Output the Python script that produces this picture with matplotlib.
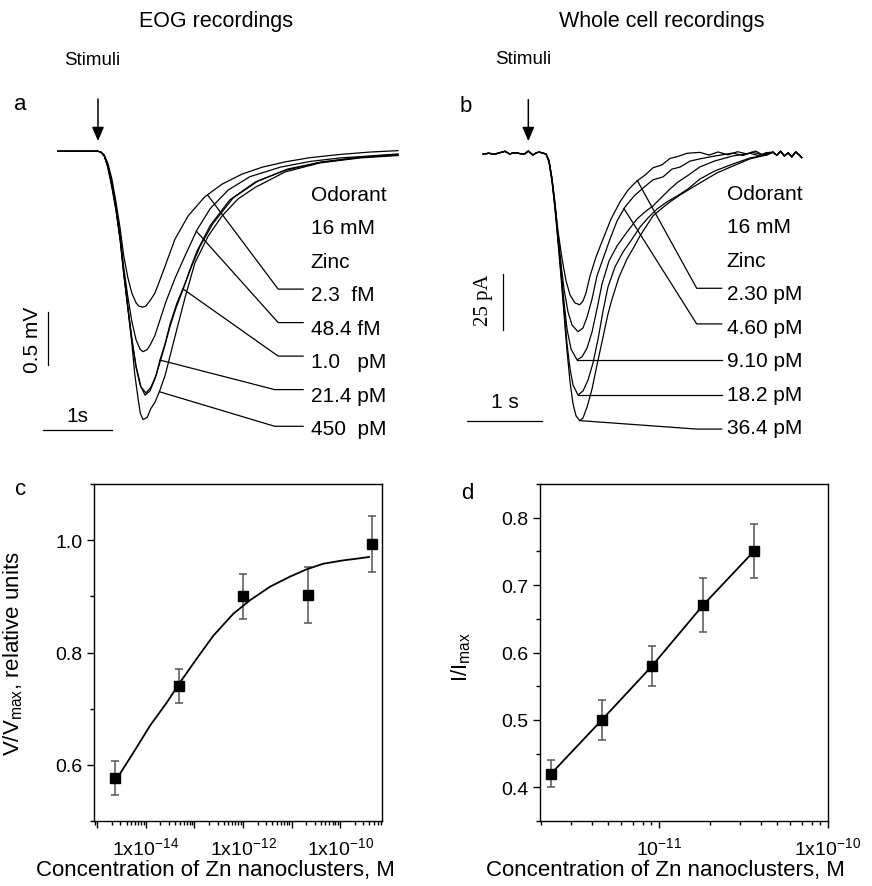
import numpy as np
import matplotlib.pyplot as plt
from matplotlib.ticker import FixedLocator, FixedFormatter, NullFormatter, MultipleLocator

plt.rcParams['font.family'] = ['Liberation Sans', 'DejaVu Sans']
plt.rcParams['mathtext.fontset'] = 'custom'
plt.rcParams['mathtext.rm'] = 'Liberation Sans'
plt.rcParams['mathtext.it'] = 'Liberation Sans:italic'
plt.rcParams['mathtext.default'] = 'regular'

# ---- a: EOG traces (time in s after stimulus, potential in mV) ----
eog_labels = ['2.3  fM', '48.4 fM', '1.0   pM', '21.4 pM', '450  pM']
eog_t_23 = [-0.58, 0, 0.04, 0.09, 0.14, 0.20, 0.26, 0.32, 0.37, 0.43, 0.49, 0.55, 0.59, 0.64, 0.69,
            0.75, 0.82, 0.89, 0.97, 1.11, 1.30, 1.54, 1.79, 2.08, 2.37, 2.70, 3.06, 3.49, 3.93, 4.33]
eog_v_23 = [0, 0, -0.007, -0.035, -0.11, -0.26, -0.48, -0.73, -0.98, -1.19, -1.34, -1.43, -1.46, -1.47, -1.46,
            -1.41, -1.34, -1.22, -1.08, -0.83, -0.61, -0.43, -0.31, -0.215, -0.15, -0.10, -0.06, -0.03, -0.007, 0.006]
eog_t_484 = [-0.58, 0, 0.04, 0.09, 0.14, 0.20, 0.26, 0.32, 0.37, 0.43, 0.49, 0.55, 0.61, 0.65, 0.71,
             0.75, 0.82, 0.89, 0.98, 1.11, 1.26, 1.43, 1.62, 1.88, 2.19, 2.63, 3.06, 3.49, 3.93, 4.33]
eog_v_484 = [0, 0, -0.007, -0.044, -0.13, -0.30, -0.53, -0.80, -1.09, -1.37, -1.61, -1.78, -1.87, -1.89, -1.87,
             -1.83, -1.74, -1.60, -1.42, -1.20, -0.98, -0.74, -0.54, -0.365, -0.24, -0.15, -0.096, -0.063, -0.044, -0.025]
eog_t_1 = [-0.58, 0, 0.04, 0.09, 0.14, 0.20, 0.26, 0.32, 0.37, 0.43, 0.49, 0.55, 0.61, 0.68, 0.75,
           0.82, 0.89, 0.97, 1.04, 1.13, 1.23, 1.33, 1.43, 1.62, 1.90, 2.27, 2.70, 3.20, 3.78, 4.33]
eog_v_1 = [0, 0, -0.007, -0.044, -0.14, -0.32, -0.55, -0.84, -1.15, -1.48, -1.79, -2.04, -2.21, -2.30, -2.26,
           -2.15, -2.00, -1.82, -1.65, -1.47, -1.30, -1.11, -0.94, -0.70, -0.46, -0.29, -0.18, -0.106, -0.058, -0.035]
eog_t_214 = [-0.58, 0, 0.04, 0.09, 0.14, 0.20, 0.26, 0.32, 0.37, 0.43, 0.49, 0.55, 0.62, 0.69, 0.76,
             0.84, 0.89, 0.97, 1.04, 1.14, 1.26, 1.36, 1.47, 1.66, 1.95, 2.31, 2.74, 3.23, 3.81, 4.33]
eog_v_214 = [0, 0, -0.007, -0.035, -0.13, -0.30, -0.535, -0.82, -1.13, -1.46, -1.77, -2.03, -2.22, -2.28, -2.23,
             -2.11, -1.98, -1.81, -1.63, -1.43, -1.24, -1.07, -0.90, -0.68, -0.44, -0.28, -0.167, -0.10, -0.054, -0.03]
eog_t_450 = [-0.58, 0, 0.04, 0.09, 0.14, 0.20, 0.26, 0.32, 0.37, 0.43, 0.49, 0.53, 0.58, 0.61, 0.65, 0.71,
             0.76, 0.82, 0.89, 0.97, 1.11, 1.26, 1.40, 1.59, 1.79, 2.02, 2.27, 2.70, 3.20, 3.78, 4.33]
eog_v_450 = [0, 0, -0.007, -0.044, -0.15, -0.34, -0.56, -0.83, -1.13, -1.47, -1.82, -2.10, -2.34, -2.47, -2.53, -2.51,
             -2.43, -2.37, -2.26, -2.11, -1.75, -1.37, -1.05, -0.80, -0.61, -0.45, -0.34, -0.195, -0.11, -0.063, -0.04]
eog_t = [eog_t_23, eog_t_484, eog_t_1, eog_t_214, eog_t_450]
eog_v = [eog_v_23, eog_v_484, eog_v_1, eog_v_214, eog_v_450]
eog_mark_t = [1.58, 1.42, 1.23, 0.895, 0.885]   # where the label leaders touch each trace

# ---- b: whole cell traces (time in s, current in pA) ----
wc_labels = ['2.30 pM', '4.60 pM', '9.10 pM', '18.2 pM', '36.4 pM']
wc_pre_t = [-0.60, -0.52, -0.45, -0.40, -0.35, -0.31, -0.25, -0.18, -0.12, -0.05, 0.0, 0.06, 0.11, 0.15, 0.20]
wc_pre_i = [0.0, 0.3, -0.2, 0.4, 0.8, 1.2, 0.0, 0.6, 0.2, 0.0, 1.3, -0.5, 0.6, 0.8, 0.3]
wc_tail_t = [3.25, 3.30, 3.35, 3.40, 3.45, 3.50, 3.55, 3.60, 3.63]
wc_tail_i = [0.8, -0.6, 1.2, -0.9, 0.5, -1.3, 0.9, -0.5, -1.6]
wc_t_230 = [0.235, 0.275, 0.315, 0.355, 0.394, 0.448, 0.501, 0.554, 0.620, 0.683, 0.726, 0.766, 0.820, 0.899, 0.992,
            1.098, 1.218, 1.324, 1.443, 1.550, 1.656, 1.775, 1.882, 1.988, 2.108, 2.280, 2.40, 2.52, 2.65, 2.78,
            2.90, 3.02, 3.12]
wc_i_230 = [0, -3.1, -11.2, -22.4, -34.6, -47.1, -57.0, -63.3, -66.9, -67.7, -66.0, -62.4, -54.7, -46.2, -38.2,
            -29.2, -21.5, -16.2, -12.1, -9.5, -6.2, -4.9, -2.0, -1.1, 0.3, 0.7, -0.5, 0.9, -0.4, 1.0,
            0.0, 1.3, -0.6]
wc_t_460 = [0.235, 0.275, 0.315, 0.355, 0.394, 0.434, 0.474, 0.527, 0.580, 0.660, 0.726, 0.780, 0.846, 0.912, 1.005,
            1.085, 1.178, 1.284, 1.404, 1.523, 1.656, 1.789, 1.908, 2.015, 2.147, 2.280, 2.479, 2.718, 2.85, 2.97, 3.10]
wc_i_460 = [0, -3.1, -11.2, -22.9, -36.4, -49.4, -60.6, -70.9, -76.8, -79.8, -78.1, -73.2, -65.1, -54.7, -45.8,
            -38.2, -30.1, -23.8, -18.9, -15.3, -11.6, -10.3, -6.8, -5.9, -3.2, -2.2, -0.9, 0.4, -0.7, 0.8, -0.3]
wc_t_910 = [0.235, 0.275, 0.315, 0.355, 0.394, 0.434, 0.474, 0.514, 0.567, 0.647, 0.713, 0.780, 0.846, 0.912, 0.979,
            1.072, 1.178, 1.311, 1.443, 1.550, 1.656, 1.775, 1.882, 1.988, 2.108, 2.280, 2.479, 2.718, 2.944, 3.06, 3.16]
wc_i_910 = [0, -3.1, -11.7, -23.3, -37.3, -51.6, -66.5, -78.6, -87.6, -92.4, -91.1, -87.1, -79.9, -69.6, -58.3,
            -48.0, -41.3, -35.0, -29.2, -26.0, -23.3, -19.3, -15.7, -12.6, -9.9, -5.8, -3.1, -0.9, 0.3, -0.8, 0.6]
wc_t_182 = [0.235, 0.275, 0.315, 0.355, 0.394, 0.434, 0.474, 0.514, 0.554, 0.594, 0.660, 0.726, 0.793, 0.859, 0.926,
            0.992, 1.058, 1.151, 1.258, 1.377, 1.483, 1.590, 1.709, 1.842, 1.975, 2.121, 2.280, 2.479, 2.718, 2.944, 3.170]
wc_i_182 = [0, -3.6, -12.1, -24.2, -38.2, -53.4, -69.6, -85.3, -96.5, -103.8, -108.2, -106.4, -101.5, -93.8, -83.1,
            -70.5, -59.7, -50.7, -44.0, -38.2, -32.8, -28.7, -24.7, -21.5, -18.9, -15.7, -11.2, -7.6, -4.5, -1.8, -0.4]
wc_t_364 = [0.235, 0.275, 0.315, 0.355, 0.394, 0.434, 0.474, 0.514, 0.554, 0.594, 0.634, 0.683, 0.726, 0.780, 0.846,
            0.912, 0.992, 1.058, 1.112, 1.205, 1.311, 1.404, 1.483, 1.576, 1.656, 1.762, 1.882, 2.015, 2.147, 2.280,
            2.506, 2.718, 2.944, 3.170]
wc_i_364 = [0, -3.6, -12.6, -25.1, -39.5, -55.2, -71.8, -88.5, -102.4, -112.3, -117.6, -119.7, -118.5, -113.6, -105.5,
            -94.7, -82.2, -71.8, -65.1, -55.2, -47.1, -41.7, -36.8, -31.9, -27.8, -24.7, -21.5, -18.4, -15.7, -13.0,
            -8.5, -5.4, -2.2, -0.4]
wc_t = [wc_t_230, wc_t_460, wc_t_910, wc_t_182, wc_t_364]
wc_i = [wc_i_230, wc_i_460, wc_i_910, wc_i_182, wc_i_364]
wc_mark_t = [1.448, 1.271]

# ---- c: EOG dose response ----
eog_conc = [2.3e-15, 4.84e-14, 1.0e-12, 2.14e-11, 4.5e-10]
eog_resp = [0.577, 0.740, 0.900, 0.902, 0.993]
eog_err = [0.03, 0.03, 0.04, 0.05, 0.05]
fit_logx = [-14.563, -14.255, -13.912, -13.568, -13.295, -12.952, -12.610, -12.199,
            -11.856, -11.445, -11.034, -10.691, -10.349, -9.938, -9.663, -9.404]
fit_y = [0.580, 0.622, 0.670, 0.711, 0.747, 0.789, 0.830, 0.869,
         0.893, 0.917, 0.935, 0.948, 0.958, 0.964, 0.967, 0.970]

# ---- d: whole cell dose response ----
wc_conc = [2.3e-12, 4.6e-12, 9.1e-12, 1.82e-11, 3.64e-11]
wc_resp = [0.42, 0.50, 0.58, 0.67, 0.75]
wc_err = [0.02, 0.03, 0.03, 0.04, 0.04]

W, H = 872, 887
fig = plt.figure(figsize=(W / 100, H / 100), dpi=100)


def box(x0, y0, x1, y1):
    # pixel rectangle (from top left) -> figure fraction
    return [x0 / W, 1 - y1 / H, (x1 - x0) / W, (y1 - y0) / H]


narrow = ['Liberation Sans Narrow', 'Liberation Sans', 'DejaVu Sans']
fig.text(216 / W, 1 - 22 / H, 'EOG recordings', ha='center', va='center', fontsize=15.5, family=narrow)
fig.text(662 / W, 1 - 22 / H, 'Whole cell recordings', ha='center', va='center', fontsize=15.5, family=narrow)
for lab, x, y in [('a', 20, 104), ('b', 466, 106), ('c', 21, 490), ('d', 467, 494)]:
    fig.text(x / W, 1 - y / H, lab, ha='center', va='center', fontsize=16)

# panel a
ax_a = fig.add_axes(box(0, 40, 435, 445))
ax_a.set_xlim(-1.414, 4.863)
ax_a.set_ylim(-2.761, 1.059)
ax_a.axis('off')
for t, v in zip(eog_t, eog_v):
    ax_a.plot(t, v, color='k', lw=0.9)
ax_a.annotate('', xy=(0, 0.07), xytext=(0, 0.52),
              arrowprops=dict(arrowstyle='-|>,head_length=0.7,head_width=0.3', color='k', lw=1.1, mutation_scale=12))
ax_a.text(-0.09, 0.87, 'Stimuli', ha='center', va='center', fontsize=13.5, family=narrow)
step = 0.316
for k, s in enumerate(['Odorant', '16 mM', 'Zinc'] + eog_labels):
    ax_a.text(3.07, -0.405 - k * step, s, ha='left', va='center', fontsize=15)
for k in range(5):
    y_lab = -1.30 - k * step - (0.03 if k == 4 else 0)
    tm = eog_mark_t[k]
    ym = np.interp(tm, eog_t[k], eog_v[k])
    xk = 2.60 if k < 3 else 2.55
    ax_a.plot([2.96, xk, tm], [y_lab, y_lab, ym], color='k', lw=0.9)
ax_a.plot([-0.794, 0.206], [-2.626, -2.626], color='k', lw=0.9)
ax_a.text(-0.30, -2.49, '1s', ha='center', va='center', fontsize=15)
ax_a.plot([-0.726, -0.726], [-1.516, -2.016], color='k', lw=0.9)
ax_a.text(-0.94, -1.77, '0.5 mV', ha='center', va='center', fontsize=15, rotation=90)

# panel b
ax_b = fig.add_axes(box(440, 40, 872, 445))
ax_b.set_xlim(-1.173, 4.564)
ax_b.set_ylim(-130.2, 51.6)
ax_b.axis('off')
for t, i in zip(wc_t, wc_i):
    ax_b.plot(wc_pre_t + t + wc_tail_t, wc_pre_i + i + wc_tail_i, color='k', lw=0.9)
ax_b.annotate('', xy=(0, 4.5), xytext=(0, 25.6),
              arrowprops=dict(arrowstyle='-|>,head_length=0.7,head_width=0.3', color='k', lw=1.1, mutation_scale=12))
ax_b.text(-0.07, 42.7, 'Stimuli', ha='center', va='center', fontsize=13.5, family=narrow)
stepb = 15.05
for k, s in enumerate(['Odorant', '16 mM', 'Zinc'] + wc_labels):
    ax_b.text(2.635, -17.6 - k * stepb, s, ha='left', va='center', fontsize=15)
for k in range(2):
    y_lab = -60.3 - k * 16.0
    tm = wc_mark_t[k]
    ym = np.interp(tm, wc_t[k], wc_i[k])
    ax_b.plot([2.568, 2.236, tm], [y_lab, y_lab, ym], color='k', lw=0.9)
for k in (2, 3):
    j = int(np.argmin(wc_i[k]))
    ax_b.plot([wc_t[k][j], 2.568], [wc_i[k][j], wc_i[k][j]], color='k', lw=0.9)
j = int(np.argmin(wc_i[4]))
ax_b.plot([wc_t[4][j], 2.236, 2.568], [wc_i[4][j], -123.5, -123.5], color='k', lw=0.9)
ax_b.plot([-0.814, 0.186], [-119.7, -119.7], color='k', lw=0.9)
ax_b.text(-0.31, -111.2, '1 s', ha='center', va='center', fontsize=15)
ax_b.plot([-0.34, -0.34], [-53.9, -78.9], color='k', lw=0.9)
ax_b.text(-0.60, -65.1, '25 pA', ha='center', va='center', fontsize=15, rotation=90,
          family=['Liberation Serif', 'DejaVu Serif'])

# panel c
ax_c = fig.add_axes(box(94, 485, 382, 822))
ax_c.errorbar(eog_conc, eog_resp, yerr=eog_err, fmt='none', ecolor='#555555', elinewidth=1.1,
              capsize=3, capthick=1.1, zorder=2)
ax_c.plot(10 ** np.array(fit_logx), fit_y, color='k', lw=1.3, zorder=3)
ax_c.plot(eog_conc, eog_resp, 's', color='k', ms=7, zorder=4)
ax_c.set_xscale('log')
ax_c.set_xlim(8.55e-16, 7.3e-10)
ax_c.set_ylim(0.5, 1.1)
ax_c.xaxis.set_major_locator(FixedLocator([1e-15, 1e-14, 1e-13, 1e-12, 1e-11, 1e-10]))
ax_c.xaxis.set_major_formatter(FixedFormatter(['', '1x10$^{-14}$', '', '1x10$^{-12}$', '', '1x10$^{-10}$']))
ax_c.xaxis.set_minor_locator(FixedLocator([m * 10.0 ** e for e in range(-16, -9) for m in range(2, 10)]))
ax_c.xaxis.set_minor_formatter(NullFormatter())
ax_c.yaxis.set_major_locator(FixedLocator([0.6, 0.8, 1.0]))
ax_c.yaxis.set_major_formatter(FixedFormatter(['0.6', '0.8', '1.0']))
ax_c.yaxis.set_minor_locator(MultipleLocator(0.1))
ax_c.set_ylabel('V/V$_{max}$, relative units', fontsize=16)
ax_c.yaxis.set_label_coords(-0.24, 0.5)
ax_c.set_xlabel('Concentration of Zn nanoclusters, M', fontsize=16, va='center')
ax_c.xaxis.set_label_coords(0.422, -0.145)

# panel d
ax_d = fig.add_axes(box(540, 485, 828, 822))
ax_d.errorbar(wc_conc, wc_resp, yerr=wc_err, fmt='none', ecolor='#555555', elinewidth=1.1,
              capsize=3, capthick=1.1, zorder=2)
ax_d.plot(wc_conc, wc_resp, '-s', color='k', lw=1.3, ms=7, zorder=4)
ax_d.set_xscale('log')
ax_d.set_xlim(1.98e-12, 1e-10)
ax_d.set_ylim(0.35, 0.85)
ax_d.xaxis.set_major_locator(FixedLocator([1e-11, 1e-10]))
ax_d.xaxis.set_major_formatter(FixedFormatter(['10$^{-11}$', '1x10$^{-10}$']))
ax_d.xaxis.set_minor_locator(FixedLocator([m * 10.0 ** e for e in (-12, -11) for m in range(2, 10)]))
ax_d.xaxis.set_minor_formatter(NullFormatter())
ax_d.yaxis.set_major_locator(MultipleLocator(0.1))
ax_d.yaxis.set_minor_locator(MultipleLocator(0.05))
ax_d.set_ylabel('I/I$_{max}$', fontsize=16)
ax_d.yaxis.set_label_coords(-0.231, 0.49)
ax_d.set_xlabel('Concentration of Zn nanoclusters, M', fontsize=16, va='center')
ax_d.xaxis.set_label_coords(0.436, -0.145)

for ax in (ax_c, ax_d):
    for sp in ax.spines.values():
        sp.set_linewidth(1.0)
    ax.tick_params(which='both', direction='out', labelsize=14, width=1.0)
    ax.tick_params(which='major', length=5)
    ax.tick_params(which='minor', length=3)
    ax.tick_params(axis='x', which='major', pad=6)

fig.savefig('out.png', dpi=100)
